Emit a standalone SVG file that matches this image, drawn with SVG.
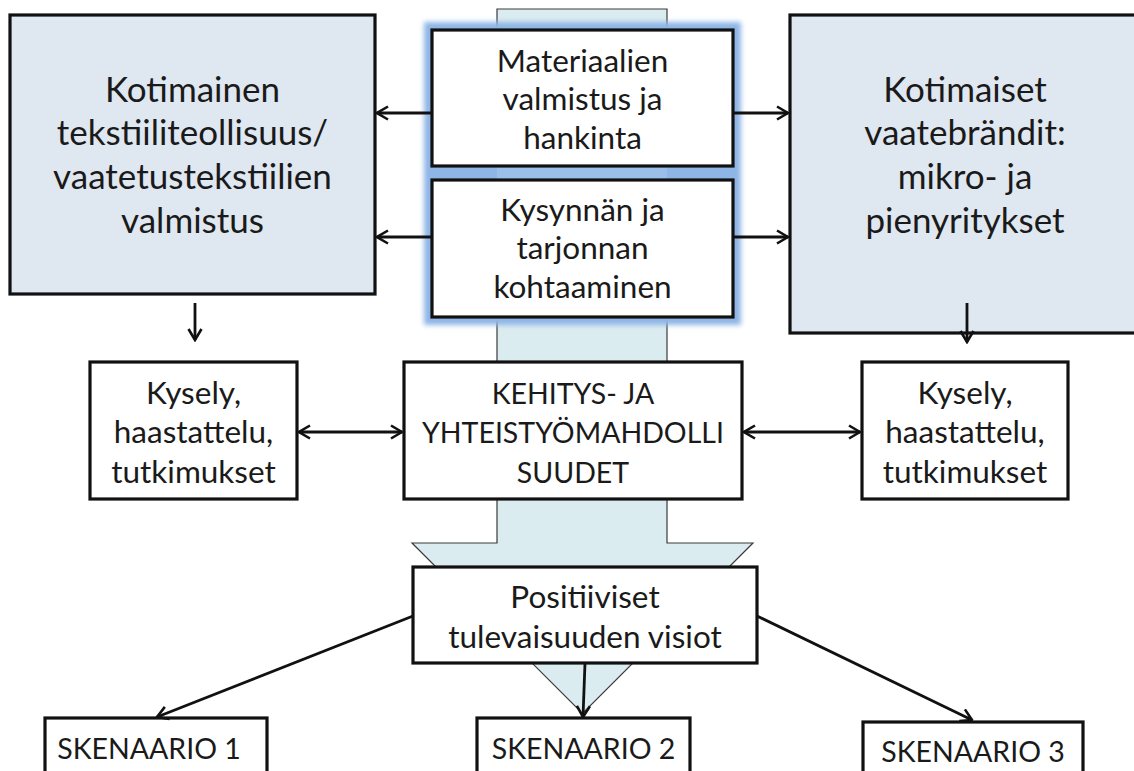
<svg xmlns="http://www.w3.org/2000/svg" width="1134" height="771" viewBox="0 0 1134 771">
<defs>
<style>
.box{fill:#ffffff;stroke:#111;stroke-width:3.2}
.big{fill:#dfe7f0;stroke:#111;stroke-width:3.2}
.t{font-family:Lato,"Open Sans",sans-serif;fill:#1a1a1a;text-anchor:middle}
.tb{font-size:35px}
.tm{font-size:31.5px}
.tc{font-size:28.5px}
.c{fill:none;stroke:#111;stroke-width:2.8}
</style>
<marker id="ah" viewBox="0 0 14 16" refX="12.5" refY="8" markerWidth="14" markerHeight="16" markerUnits="userSpaceOnUse" orient="auto-start-reverse">
<path d="M1.5,1.5 L12.5,8 L1.5,14.5" fill="none" stroke="#111" stroke-width="2.6" stroke-linejoin="miter"/>
</marker>
<filter id="glow" x="-10%" y="-10%" width="120%" height="120%">
<feGaussianBlur stdDeviation="2.5"/>
</filter>
</defs>

<g id="flow-arrow">
<polygon points="497,9 667,9 667,543 753,543 582.5,713.5 412,543 497,543" fill="#dbecf1" stroke="#3a3a3a" stroke-width="1.2"/>
</g>

<g id="glow-bg">
<rect x="424" y="22" width="317" height="303" fill="#8fb5e6" filter="url(#glow)"/>
<rect x="497" y="166" width="170" height="14" fill="#9cbfe9"/>
</g>

<g id="n-left">
<rect class="big" x="10" y="15" width="365" height="279"/>
<text class="t tb" x="192.5" y="102">Kotimainen</text>
<text class="t tb" x="192.5" y="145">tekstiiliteollisuus/</text>
<text class="t tb" x="192.5" y="189">vaatetustekstiilien</text>
<text class="t tb" x="192.5" y="233">valmistus</text>
</g>

<g id="n-right">
<rect class="big" x="790" y="15" width="360" height="318"/>
<text class="t tb" x="965" y="102">Kotimaiset</text>
<text class="t tb" x="965" y="145">vaatebrändit:</text>
<text class="t tb" x="965" y="189">mikro- ja</text>
<text class="t tb" x="965" y="233">pienyritykset</text>
</g>

<g id="n-materiaalien">
<rect class="box" x="432" y="30" width="301" height="136"/>
<text class="t tm" x="582.5" y="72">Materiaalien</text>
<text class="t tm" x="582.5" y="110">valmistus ja</text>
<text class="t tm" x="582.5" y="149">hankinta</text>
</g>

<g id="n-kysynnan">
<rect class="box" x="432" y="180" width="301" height="137"/>
<text class="t tm" x="582.5" y="221">Kysynnän ja</text>
<text class="t tm" x="582.5" y="259">tarjonnan</text>
<text class="t tm" x="582.5" y="298">kohtaaminen</text>
</g>

<g id="n-kysely-left">
<rect class="box" x="90" y="362" width="207" height="137"/>
<text class="t tm" x="193.5" y="404">Kysely,</text>
<text class="t tm" x="193.5" y="443">haastattelu,</text>
<text class="t tm" x="193.5" y="483">tutkimukset</text>
</g>

<g id="n-kehitys">
<rect class="box" x="404" y="362" width="338" height="137"/>
<text class="t tc" x="573" y="404">KEHITYS- JA</text>
<text class="t tc" x="573" y="443">YHTEISTYÖMAHDOLLI</text>
<text class="t tc" x="573" y="483">SUUDET</text>
</g>

<g id="n-kysely-right">
<rect class="box" x="862" y="362" width="206" height="137"/>
<text class="t tm" x="965" y="404">Kysely,</text>
<text class="t tm" x="965" y="443">haastattelu,</text>
<text class="t tm" x="965" y="483">tutkimukset</text>
</g>

<g id="n-positiiviset">
<rect class="box" x="413" y="567" width="344" height="96"/>
<text class="t tm" x="585" y="608">Positiiviset</text>
<text class="t tm" x="585" y="648">tulevaisuuden visiot</text>
</g>

<g id="n-sk1">
<rect class="box" x="45" y="718" width="222" height="70"/>
<text class="t tc" x="149" y="759">SKENAARIO 1</text>
</g>

<g id="n-sk2">
<rect class="box" x="477" y="718" width="213" height="70"/>
<text class="t tc" x="583.5" y="759">SKENAARIO 2</text>
</g>

<g id="n-sk3">
<rect class="box" x="863" y="722" width="220" height="70"/>
<text class="t tc" x="973" y="762">SKENAARIO 3</text>
</g>

<g id="connectors">
<line class="c" x1="432" y1="113" x2="377" y2="113" marker-end="url(#ah)"/>
<line class="c" x1="432" y1="237" x2="377" y2="237" marker-end="url(#ah)"/>
<line class="c" x1="733" y1="113" x2="788" y2="113" marker-end="url(#ah)"/>
<line class="c" x1="733" y1="237" x2="788" y2="237" marker-end="url(#ah)"/>
<line class="c" x1="195" y1="303" x2="195" y2="340" marker-end="url(#ah)"/>
<line class="c" x1="967" y1="303" x2="967" y2="342" marker-end="url(#ah)"/>
<line class="c" x1="299" y1="432" x2="402" y2="432" marker-start="url(#ah)" marker-end="url(#ah)"/>
<line class="c" x1="744" y1="432" x2="860" y2="432" marker-start="url(#ah)" marker-end="url(#ah)"/>
<line class="c" x1="413" y1="616" x2="157" y2="717" marker-end="url(#ah)"/>
<line class="c" x1="585" y1="663" x2="583" y2="717" marker-end="url(#ah)"/>
<line class="c" x1="757" y1="616" x2="972" y2="720" marker-end="url(#ah)"/>
</g>
</svg>
